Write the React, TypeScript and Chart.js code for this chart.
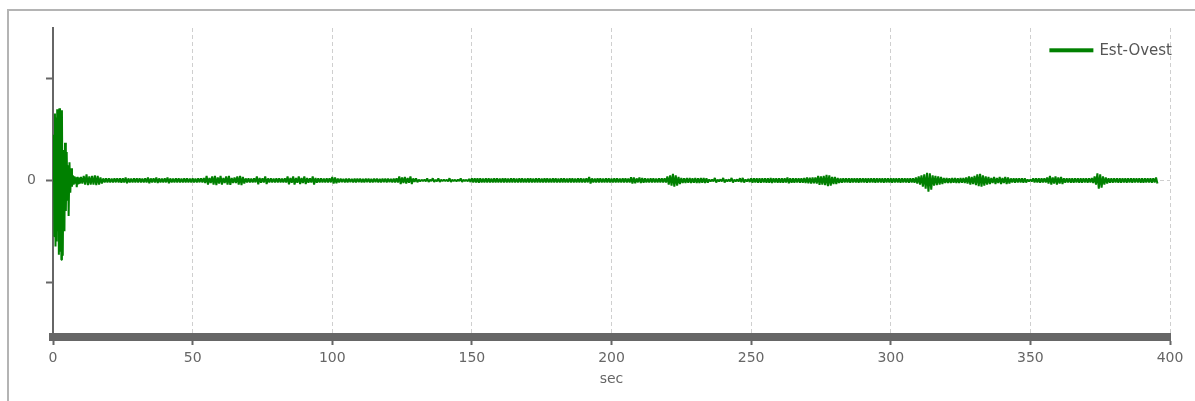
import React, { useEffect, useRef } from 'react';
import { Chart, registerables } from 'chart.js';

Chart.register(...registerables);

const SERIES_NAME = 'Est-Ovest';
const X_TITLE = 'sec';
const X_TICKS = [0, 50, 100, 150, 200, 250, 300, 350, 400];
const Y_TICKS = [-1, 0, 1];
const Y_LABELED = [0];
const GREEN = '#008000';

// Onset of the record (0 - 10 s): explicit samples
const onsetTime = [
  0, 0.3, 0.5, 0.7, 0.9, 1.1, 1.3, 1.5, 1.7, 1.9,
  2.1, 2.3, 2.5, 2.8, 3.0, 3.2, 3.5, 3.8, 4.1, 4.3,
  4.6, 4.9, 5.2, 5.4, 5.6, 5.9, 6.2, 6.5, 6.8, 7.1,
  7.4, 7.7, 8.0, 8.3, 8.5, 8.8, 9.1, 9.3, 9.6,
];
const onsetValue = [
  0, 0.45, -0.55, 0.66, -0.65, 0.62, -0.6, 0.7, -0.5, 0.4,
  -0.73, 0.71, -0.7, 0.45, -0.78, 0.69, -0.74, 0.3, -0.5, 0.37,
  -0.3, 0.28, -0.2, 0.15, -0.35, 0.18, -0.12, 0.12, -0.06, 0.05,
  -0.04, 0.04, -0.03, 0.03, -0.065, 0.035, -0.03, 0.03, -0.03,
];

// From 10 s on: one peak and one trough per second
const TAIL_START = 10;
const tailPeak = [
  0.035, 0.045, 0.06, 0.04, 0.045, 0.05, 0.045, 0.03, 0.02, 0.022,
  0.02, 0.018, 0.02, 0.022, 0.02, 0.02, 0.03, 0.02, 0.018, 0.02,
  0.02, 0.02, 0.018, 0.02, 0.03, 0.02, 0.02, 0.03, 0.02, 0.018,
  0.02, 0.03, 0.02, 0.018, 0.02, 0.02, 0.018, 0.02, 0.02, 0.018,
  0.02, 0.018, 0.02, 0.022, 0.025, 0.045, 0.025, 0.04, 0.045, 0.03,
  0.045, 0.025, 0.04, 0.045, 0.025, 0.028, 0.04, 0.045, 0.035, 0.02,
  0.02, 0.018, 0.02, 0.04, 0.025, 0.022, 0.04, 0.02, 0.02, 0.018,
  0.02, 0.02, 0.018, 0.02, 0.04, 0.025, 0.04, 0.025, 0.04, 0.025,
  0.04, 0.025, 0.022, 0.04, 0.025, 0.02, 0.02, 0.018, 0.02, 0.02,
  0.035, 0.03, 0.018, 0.018, 0.016, 0.018, 0.018, 0.016, 0.018, 0.018,
  0.018, 0.016, 0.018, 0.018, 0.016, 0.018, 0.018, 0.016, 0.018, 0.018,
  0.018, 0.016, 0.018, 0.02, 0.04, 0.03, 0.035, 0.025, 0.04, 0.02,
  0.022, 0.008, 0.006, 0.008, 0.02, 0.008, 0.022, 0.006, 0.02, 0.008,
  0.008, 0.006, 0.022, 0.008, 0.006, 0.008, 0.02, 0.008, 0.006, 0.015,
  0.02, 0.022, 0.02, 0.02, 0.018, 0.02, 0.02, 0.018, 0.02, 0.02,
  0.018, 0.02, 0.02, 0.018, 0.02, 0.02, 0.018, 0.02, 0.02, 0.018,
  0.02, 0.02, 0.018, 0.02, 0.02, 0.018, 0.02, 0.02, 0.018, 0.02,
  0.02, 0.018, 0.02, 0.02, 0.018, 0.02, 0.02, 0.018, 0.02, 0.02,
  0.018, 0.02, 0.035, 0.02, 0.018, 0.02, 0.02, 0.018, 0.02, 0.02,
  0.018, 0.02, 0.02, 0.018, 0.02, 0.02, 0.018, 0.032, 0.03, 0.02,
  0.028, 0.025, 0.02, 0.018, 0.02, 0.02, 0.018, 0.02, 0.02, 0.022,
  0.04, 0.05, 0.065, 0.05, 0.035, 0.025, 0.022, 0.025, 0.025, 0.022,
  0.025, 0.022, 0.025, 0.025, 0.022, 0.01, 0.008, 0.025, 0.008, 0.01,
  0.025, 0.008, 0.01, 0.025, 0.008, 0.01, 0.022, 0.025, 0.01, 0.015,
  0.022, 0.022, 0.02, 0.022, 0.022, 0.02, 0.022, 0.025, 0.022, 0.02,
  0.022, 0.02, 0.022, 0.03, 0.022, 0.02, 0.022, 0.022, 0.02, 0.025,
  0.03, 0.028, 0.03, 0.03, 0.045, 0.04, 0.045, 0.055, 0.05, 0.035,
  0.035, 0.025, 0.02, 0.022, 0.02, 0.02, 0.022, 0.02, 0.02, 0.022,
  0.02, 0.02, 0.022, 0.02, 0.02, 0.022, 0.02, 0.02, 0.022, 0.02,
  0.02, 0.022, 0.02, 0.02, 0.022, 0.02, 0.02, 0.022, 0.02, 0.03,
  0.04, 0.05, 0.06, 0.075, 0.07, 0.05, 0.045, 0.04, 0.035, 0.025,
  0.025, 0.022, 0.025, 0.025, 0.022, 0.025, 0.025, 0.03, 0.04, 0.035,
  0.045, 0.06, 0.065, 0.05, 0.04, 0.035, 0.025, 0.035, 0.025, 0.035,
  0.025, 0.035, 0.03, 0.02, 0.02, 0.022, 0.02, 0.02, 0.022, 0.01,
  0.01, 0.02, 0.022, 0.02, 0.02, 0.022, 0.03, 0.045, 0.03, 0.04,
  0.03, 0.035, 0.022, 0.022, 0.02, 0.022, 0.022, 0.02, 0.022, 0.022,
  0.022, 0.022, 0.025, 0.04, 0.07, 0.06, 0.04, 0.03, 0.022, 0.022,
  0.022, 0.02, 0.022, 0.022, 0.02, 0.022, 0.02, 0.022, 0.02, 0.02,
  0.02, 0.022, 0.02, 0.02, 0.022, 0.03,
];
const tailTrough = [
  -0.03, -0.04, -0.045, -0.04, -0.04, -0.045, -0.04, -0.03, -0.02, -0.02,
  -0.02, -0.02, -0.018, -0.02, -0.022, -0.02, -0.028, -0.02, -0.02, -0.018,
  -0.02, -0.018, -0.02, -0.02, -0.028, -0.02, -0.02, -0.025, -0.02, -0.02,
  -0.018, -0.028, -0.02, -0.02, -0.018, -0.02, -0.02, -0.018, -0.02, -0.02,
  -0.02, -0.02, -0.018, -0.02, -0.025, -0.04, -0.025, -0.04, -0.045, -0.03,
  -0.04, -0.025, -0.04, -0.042, -0.025, -0.025, -0.04, -0.045, -0.03, -0.02,
  -0.02, -0.02, -0.018, -0.038, -0.022, -0.02, -0.035, -0.02, -0.018, -0.02,
  -0.02, -0.018, -0.02, -0.02, -0.038, -0.022, -0.04, -0.022, -0.035, -0.025,
  -0.035, -0.022, -0.02, -0.04, -0.022, -0.02, -0.018, -0.02, -0.02, -0.018,
  -0.03, -0.028, -0.018, -0.016, -0.018, -0.018, -0.016, -0.018, -0.018, -0.016,
  -0.018, -0.018, -0.016, -0.018, -0.018, -0.016, -0.018, -0.018, -0.016, -0.018,
  -0.016, -0.018, -0.018, -0.02, -0.035, -0.025, -0.03, -0.022, -0.035, -0.015,
  -0.018, -0.008, -0.006, -0.008, -0.015, -0.006, -0.015, -0.008, -0.015, -0.006,
  -0.006, -0.008, -0.015, -0.006, -0.008, -0.006, -0.015, -0.006, -0.008, -0.015,
  -0.02, -0.02, -0.022, -0.018, -0.02, -0.02, -0.018, -0.02, -0.02, -0.018,
  -0.02, -0.018, -0.02, -0.02, -0.018, -0.02, -0.02, -0.018, -0.02, -0.02,
  -0.018, -0.02, -0.02, -0.018, -0.02, -0.02, -0.018, -0.02, -0.02, -0.018,
  -0.02, -0.02, -0.018, -0.02, -0.02, -0.018, -0.02, -0.02, -0.018, -0.02,
  -0.02, -0.018, -0.03, -0.02, -0.02, -0.018, -0.02, -0.02, -0.018, -0.02,
  -0.02, -0.02, -0.018, -0.02, -0.02, -0.018, -0.02, -0.03, -0.028, -0.018,
  -0.025, -0.022, -0.02, -0.02, -0.018, -0.02, -0.02, -0.018, -0.02, -0.02,
  -0.04, -0.05, -0.06, -0.05, -0.035, -0.025, -0.025, -0.022, -0.025, -0.022,
  -0.025, -0.025, -0.022, -0.025, -0.022, -0.01, -0.008, -0.02, -0.008, -0.01,
  -0.02, -0.008, -0.01, -0.02, -0.008, -0.01, -0.018, -0.02, -0.01, -0.015,
  -0.022, -0.02, -0.022, -0.022, -0.02, -0.022, -0.022, -0.025, -0.02, -0.022,
  -0.022, -0.022, -0.02, -0.028, -0.022, -0.022, -0.02, -0.022, -0.022, -0.025,
  -0.028, -0.03, -0.028, -0.03, -0.042, -0.04, -0.045, -0.055, -0.05, -0.035,
  -0.035, -0.025, -0.022, -0.02, -0.02, -0.022, -0.02, -0.02, -0.022, -0.02,
  -0.02, -0.022, -0.02, -0.02, -0.022, -0.02, -0.02, -0.022, -0.02, -0.02,
  -0.022, -0.02, -0.02, -0.022, -0.02, -0.02, -0.022, -0.02, -0.022, -0.03,
  -0.04, -0.06, -0.08, -0.11, -0.09, -0.05, -0.045, -0.04, -0.035, -0.025,
  -0.025, -0.025, -0.022, -0.025, -0.025, -0.022, -0.025, -0.03, -0.04, -0.035,
  -0.045, -0.055, -0.06, -0.05, -0.04, -0.035, -0.025, -0.035, -0.025, -0.035,
  -0.025, -0.035, -0.03, -0.02, -0.022, -0.02, -0.02, -0.022, -0.02, -0.01,
  -0.01, -0.02, -0.02, -0.022, -0.02, -0.02, -0.03, -0.04, -0.03, -0.04,
  -0.03, -0.035, -0.022, -0.02, -0.022, -0.022, -0.02, -0.022, -0.022, -0.02,
  -0.022, -0.02, -0.025, -0.04, -0.08, -0.07, -0.04, -0.03, -0.022, -0.022,
  -0.02, -0.022, -0.022, -0.02, -0.022, -0.02, -0.022, -0.02, -0.02, -0.022,
  -0.022, -0.02, -0.02, -0.022, -0.02, -0.03,
];

const FONT = "'DejaVu Sans', sans-serif";

const legendPlugin = {
  id: 'lineLegend',
  afterDraw(chart: any) {
    const { ctx, chartArea } = chart;
    ctx.save();
    ctx.font = `15px ${FONT}`;
    const w = ctx.measureText(SERIES_NAME).width;
    const textRight = chartArea.right + 2;
    const textX = textRight - w;
    const baseline = chartArea.top + 26.5;
    ctx.fillStyle = GREEN;
    ctx.fillRect(textX - 6 - 44, chartArea.top + 20.3, 44, 4);
    ctx.fillStyle = '#555555';
    ctx.textBaseline = 'alphabetic';
    ctx.textAlign = 'left';
    ctx.fillText(SERIES_NAME, textX, baseline);
    ctx.restore();
  },
};

export default function App() {
  const canvasRef = useRef<HTMLCanvasElement | null>(null);

  useEffect(() => {
    const canvas = canvasRef.current;
    if (!canvas) return;

    const points: { x: number; y: number }[] = [];
    for (let i = 0; i < onsetTime.length; i++) {
      points.push({ x: onsetTime[i], y: onsetValue[i] });
    }
    for (let i = 0; i < tailPeak.length; i++) {
      points.push({ x: TAIL_START + i, y: tailPeak[i] });
      points.push({ x: TAIL_START + i + 0.5, y: tailTrough[i] });
    }

    Chart.defaults.font.family = FONT;

    const chart = new Chart(canvas, {
      type: 'line',
      data: {
        datasets: [
          {
            label: SERIES_NAME,
            data: points,
            borderColor: GREEN,
            backgroundColor: GREEN,
            borderWidth: 2,
            pointRadius: 0,
            pointHoverRadius: 0,
            tension: 0,
            fill: false,
            borderJoinStyle: 'bevel',
            borderCapStyle: 'butt',
          },
        ],
      },
      options: {
        animation: false,
        responsive: false,
        events: [],
        layout: { padding: { left: 13, right: 25, top: 28, bottom: 4 } },
        plugins: {
          legend: { display: false },
          tooltip: { enabled: false },
        },
        scales: {
          x: {
            type: 'linear',
            min: 0,
            max: 400,
            afterBuildTicks: (s: any) => {
              s.ticks = X_TICKS.map((v) => ({ value: v }));
            },
            afterFit: (s: any) => {
              s.height = 60;
            },
            grid: {
              color: '#cfcfcf',
              lineWidth: 1,
              drawOnChartArea: true,
              drawTicks: true,
              tickLength: 8,
              tickColor: '#666666',
              tickWidth: 2,
              tickBorderDash: [],
            },
            border: { display: true, color: '#666666', width: 8, dash: [4, 3] },
            ticks: {
              color: '#666666',
              font: { size: 14, family: FONT },
              padding: 5,
              maxRotation: 0,
              autoSkip: false,
              callback: (v: any) => String(v),
            },
            title: {
              display: true,
              text: X_TITLE,
              color: '#666666',
              font: { size: 14, family: FONT },
              padding: { top: 0, bottom: 9 },
            },
          },
          y: {
            type: 'linear',
            min: -1.54,
            max: 1.5,
            afterBuildTicks: (s: any) => {
              s.ticks = Y_TICKS.map((v) => ({ value: v }));
            },
            afterFit: (s: any) => {
              s.width = 40;
            },
            grid: {
              color: (c: any) =>
                c.tick && c.tick.value === 0 ? '#cfcfcf' : 'rgba(0,0,0,0)',
              lineWidth: 1,
              drawOnChartArea: true,
              drawTicks: true,
              tickLength: 7,
              tickColor: '#666666',
              tickWidth: 2,
              tickBorderDash: [],
            },
            border: { display: true, color: '#666666', width: 2, dash: [4, 3] },
            ticks: {
              color: '#666666',
              font: { size: 14, family: FONT },
              padding: 10,
              callback: (v: any) => (Y_LABELED.includes(Number(v)) ? String(v) : ''),
            },
          },
        },
      },
      plugins: [legendPlugin],
    } as any);

    return () => {
      chart.destroy();
    };
  }, []);

  return (
    <div style={{ position: 'fixed', left: 0, top: 0, width: 1195, height: 401, background: '#fff' }}>
      <div
        style={{
          position: 'absolute',
          left: 7,
          top: 9,
          width: 1188,
          height: 392,
          borderTop: '2px solid #b4b4b4',
          borderLeft: '2px solid #b4b4b4',
        }}
      />
      <canvas
        ref={canvasRef}
        width={1195}
        height={401}
        style={{ position: 'absolute', left: 0, top: 0, width: 1195, height: 401 }}
      />
    </div>
  );
}
